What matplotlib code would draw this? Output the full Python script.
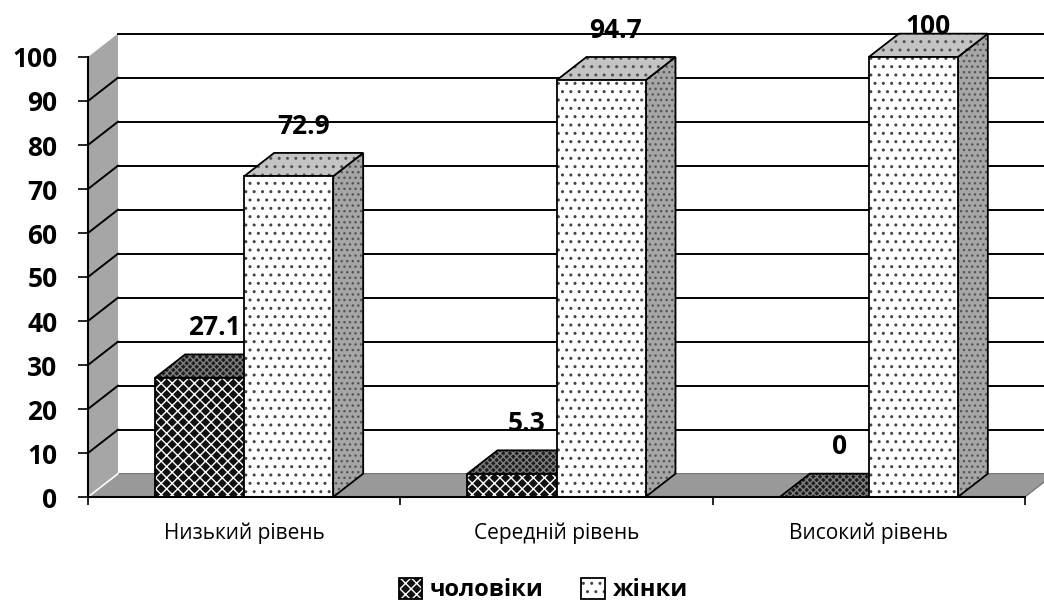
import numpy as np
import matplotlib.pyplot as plt
from matplotlib.patches import Polygon, Patch

plt.rcParams['font.family'] = ['Open Sans', 'DejaVu Sans']
plt.rcParams['hatch.linewidth'] = 1.0

categories = ['Низький рівень', 'Середній рівень', 'Високий рівень']
men = [27.1, 5.3, 0]
women = [72.9, 94.7, 100]
series_names = ['чоловіки', 'жінки']
yticks = [0, 10, 20, 30, 40, 50, 60, 70, 80, 90, 100]

# depth of the fake 3d box (data units)
dx, dy = 0.096, 5.3
w = 0.285

# styles: (facecolor, hatch, hatchcolor)
men_style = {'front': ('#111111', 'xxx', 'white'),
             'top': ('#1e1e1e', 'xxxxx', '#808080'),
             'side': ('#333333', 'xxx', '#888888')}
women_style = {'front': ('white', '..', '#444444'),
               'top': ('#c4c4c4', '..', '#555555'),
               'side': ('#a6a6a6', '...', '#555555')}

fig = plt.figure(figsize=(10.44, 6.01), dpi=100)
ax = fig.add_axes([88/1044, 104/601, 937/1044, 440/601])
ax.set_xlim(-0.5, 2.5)
ax.set_ylim(0, 100)

def face(pts, st, z):
    fc, h, hc = st
    ax.add_patch(Polygon(pts, closed=True, facecolor=fc, hatch=h, edgecolor=hc,
                         linewidth=0, clip_on=False, zorder=z))
    ax.add_patch(Polygon(pts, closed=True, fill=False, edgecolor='black',
                         linewidth=1.3, clip_on=False, zorder=z + 0.001))

def box(x0, x1, h, style, z):
    face([(x1, 0), (x1 + dx, dy), (x1 + dx, h + dy), (x1, h)], style['side'], z)
    face([(x0, h), (x0 + dx, h + dy), (x1 + dx, h + dy), (x1, h)], style['top'], z + 0.002)
    face([(x0, 0), (x1, 0), (x1, h), (x0, h)], style['front'], z + 0.004)

# left wall
ax.add_patch(Polygon([(-0.5, 0), (-0.5, 100), (-0.5 + dx, 100 + dy), (-0.5 + dx, dy)],
                     closed=True, facecolor='#a6a6a6', edgecolor='none', zorder=0.5, clip_on=False))
# gridlines on back wall and side wall
for v in yticks[1:]:
    ax.plot([-0.5 + dx, 2.8], [v + dy, v + dy], color='black', lw=1.4, zorder=1, clip_on=False)
    if v < 100:
        ax.plot([-0.5, -0.5 + dx], [v, v + dy], color='black', lw=1.4, zorder=1, clip_on=False)
# floor
ax.add_patch(Polygon([(-0.5, 0), (2.5, 0), (2.5 + dx, dy), (-0.5 + dx, dy)],
                     closed=True, facecolor='#999999', edgecolor='#555555', lw=0.6,
                     zorder=1.5, clip_on=False))
ax.plot([-0.5, -0.5 + dx], [0, dy], color='white', lw=1.2, zorder=1.6)

x = np.arange(len(categories))
for i in range(len(categories)):
    box(x[i] - w, x[i], men[i], men_style, 2 + i * 0.1)
    box(x[i], x[i] + w, women[i], women_style, 2.05 + i * 0.1)
    for xc, v in [(x[i] - w / 2, men[i]), (x[i] + w / 2, women[i])]:
        ax.text(xc + dx / 2, min(v + dy + 6.1, 107), f'{v:g}', ha='center', va='center',
                fontsize=19, fontweight='bold', zorder=5, clip_on=False)

ax.spines['top'].set_visible(False)
ax.spines['right'].set_visible(False)
for s in ['left', 'bottom']:
    ax.spines[s].set_linewidth(1.5)
    ax.spines[s].set_zorder(4)

ax.set_yticks(yticks)
ax.set_yticklabels([str(t) for t in yticks], fontsize=19, fontweight='bold')
ax.tick_params(axis='y', direction='out', length=7, width=1.2, pad=15)
ax.set_xticks(x)
ax.set_xticklabels(categories, fontsize=15)
ax.set_xticks([-0.5, 0.5, 1.5, 2.5], minor=True)
ax.tick_params(axis='x', which='major', length=0, pad=18)
ax.tick_params(axis='x', which='minor', direction='out', length=6, width=1.2)

h_men = (Patch(facecolor='#111111', hatch='xxx', edgecolor='white', lw=0),
         Patch(fill=False, edgecolor='black', lw=1.3))
h_women = (Patch(facecolor='white', hatch='..', edgecolor='#444444', lw=0),
           Patch(fill=False, edgecolor='black', lw=1.3))
fig.legend([h_men, h_women], series_names, loc='center', bbox_to_anchor=(543/1044, 1 - 590/601),
           ncol=2, frameon=False, prop={'size': 17, 'weight': 'bold'},
           handlelength=1.0, handleheight=1.0, handletextpad=0.3, columnspacing=1.6)

fig.savefig('out.png', dpi=100)
